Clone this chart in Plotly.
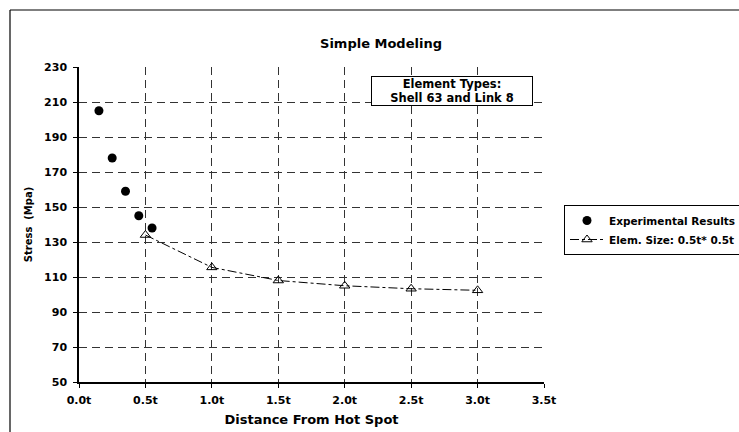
import plotly.graph_objects as go

exp_x = [0.15, 0.25, 0.35, 0.45, 0.55]
exp_y = [205, 178, 159, 145, 138]
mod_x = [0.5, 1.0, 1.5, 2.0, 2.5, 3.0]
mod_y = [134, 115.5, 108, 105, 103.3, 102.4]
x_ticks = [0, 0.5, 1.0, 1.5, 2.0, 2.5, 3.0, 3.5]
x_ticktext = ["0.0t", "0.5t", "1.0t", "1.5t", "2.0t", "2.5t", "3.0t", "3.5t"]
y_ticks = [50, 70, 90, 110, 130, 150, 170, 190, 210, 230]

FONT = "DejaVu Sans, Liberation Sans, Arial, sans-serif"

fig = go.Figure()
fig.add_trace(go.Scatter(
    x=exp_x, y=exp_y, mode="markers", name="Experimental Results",
    marker=dict(symbol="circle", size=9, color="black"),
))
fig.add_trace(go.Scatter(
    x=mod_x, y=mod_y, mode="lines+markers", name="Elem. Size: 0.5t* 0.5t",
    line=dict(color="black", width=1, dash="dashdot"),
    marker=dict(symbol="triangle-up-open", size=9, color="black", line=dict(width=1)),
))

W, H = 739, 432
L, R, T, B = 79, 544, 67, 382
pw, ph = R - L, B - T

def px_x(p):
    return (p - L) / pw

def px_y(p):
    return (B - p) / ph

fig.update_layout(
    width=W, height=H,
    margin=dict(l=L, r=W - R, t=T, b=H - B, autoexpand=False),
    paper_bgcolor="white", plot_bgcolor="white",
    font=dict(family=FONT, color="black", size=10, weight="bold"),
    title=dict(text="Simple Modeling", x=381 / W, xanchor="center",
               y=1 - 43 / H, yanchor="middle", xref="container", yref="container",
               font=dict(size=13, family=FONT, weight="bold")),
    xaxis=dict(
        range=[0, 3.5], tickvals=x_ticks, ticktext=x_ticktext,
        showline=True, linecolor="black", linewidth=1.5,
        ticks="outside", ticklen=4, tickcolor="black",
        showgrid=True, gridcolor="#333", griddash="8px,5px", gridwidth=1.3,
        zeroline=False, automargin=False, ticklabelstandoff=3,
        tickfont=dict(size=11, family=FONT, weight="bold"),
        title=dict(text="Distance From Hot Spot", standoff=9,
                   font=dict(size=13, family=FONT, weight="bold")),
    ),
    yaxis=dict(
        range=[50, 230], tickvals=y_ticks,
        showline=True, linecolor="black", linewidth=1.5,
        ticks="outside", ticklen=4, tickcolor="black",
        showgrid=True, gridcolor="#333", griddash="8px,5px", gridwidth=1.3,
        zeroline=False, automargin=False, ticklabelstandoff=4,
        tickfont=dict(size=11, family=FONT, weight="bold"),
        title=dict(text="Stress  (Mpa)", standoff=10,
                   font=dict(size=10, family=FONT, weight="bold")),
    ),
    legend=dict(
        x=px_x(564), y=px_y(205), xanchor="left", yanchor="top",
        bordercolor="black", borderwidth=1, bgcolor="white",
        font=dict(size=10.5, family=FONT, weight="bold"), tracegroupgap=0,
        itemwidth=34,
    ),
    showlegend=True,
)

fig.add_annotation(
    x=px_x(452), y=px_y(91), xref="paper", yref="paper",
    xanchor="center", yanchor="middle",
    text="Element Types:<br>Shell 63 and Link 8", showarrow=False,
    font=dict(size=11.5, family=FONT, weight="bold"), align="center",
    bordercolor="black", borderwidth=1, bgcolor="white",
    width=158, height=26, borderpad=1,
)

# outer chart border: only its left and top edges fall inside the picture
fig.add_shape(type="line", xref="paper", yref="paper",
              x0=px_x(10), x1=px_x(10), y0=px_y(480), y1=px_y(10),
              line=dict(color="black", width=1.2), layer="above")
fig.add_shape(type="line", xref="paper", yref="paper",
              x0=px_x(10), x1=px_x(800), y0=px_y(10), y1=px_y(10),
              line=dict(color="black", width=1.2), layer="above")

fig.write_html(
    "out.html",
    config={"displayModeBar": False},
    post_script="document.body.style.margin='0';document.body.style.overflow='hidden';",
)
